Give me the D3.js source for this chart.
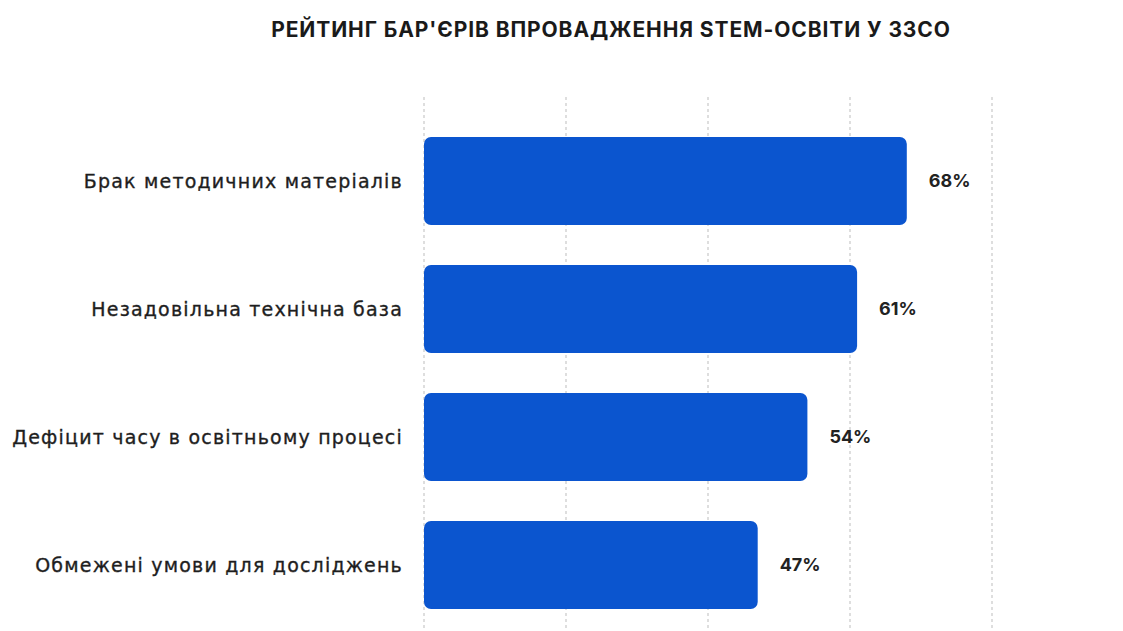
<!DOCTYPE html>
<html><head><meta charset="utf-8">
<script src="https://cdn.jsdelivr.net/npm/d3@7"></script>
<style>body{margin:0;background:#fff;}svg{display:block;}</style>
</head><body>
<svg id="c" width="1123" height="631"></svg>
<script>
const title = "РЕЙТИНГ БАР'ЄРІВ ВПРОВАДЖЕННЯ STEM-ОСВІТИ У ЗЗСО";
const categories = ["Брак методичних матеріалів","Незадовільна технічна база","Дефіцит часу в освітньому процесі","Обмежені умови для досліджень"];
const values = [68, 61, 54, 47];
const gridTicks = [0, 20, 40, 60, 80];

const svg = d3.select("#c");
const x = d3.scaleLinear().domain([0, 100]).range([424, 1134]);
const y = d3.scaleBand().domain(categories).range([117, 629]).paddingInner(0.3125).paddingOuter(0.15625);

svg.append("text").attr("x", 611).attr("y", 37).attr("text-anchor", "middle")
  .attr("font-family", "Inter, 'Open Sans', sans-serif").attr("font-weight", 700)
  .attr("font-size", 21).attr("letter-spacing", 0.9).attr("fill", "#1a1a1a").text(title);

svg.append("g").selectAll("line").data(gridTicks).join("line")
  .attr("x1", d => x(d)).attr("x2", d => x(d)).attr("y1", 97).attr("y2", 631)
  .attr("stroke", "#c8c8c8").attr("stroke-width", 1.2).attr("stroke-dasharray", "3,3");

svg.append("g").selectAll("rect").data(values).join("rect")
  .attr("x", x(0)).attr("y", (d, i) => y(categories[i]))
  .attr("width", d => x(d) - x(0)).attr("height", y.bandwidth())
  .attr("rx", 7).attr("fill", "#0b55cf");

svg.append("g").selectAll("text").data(values).join("text")
  .attr("x", d => x(d) + 22).attr("y", (d, i) => y(categories[i]) + y.bandwidth() / 2)
  .attr("dy", "0.35em").attr("font-family", "Inter, 'Open Sans', sans-serif")
  .attr("font-weight", 700).attr("font-size", 18).attr("fill", "#222").text(d => d + "%");

svg.append("g").selectAll("text").data(categories).join("text")
  .attr("x", 403).attr("y", d => y(d) + y.bandwidth() / 2)
  .attr("dy", "0.35em").attr("text-anchor", "end")
  .attr("font-family", "'DejaVu Sans', sans-serif")
  .attr("font-size", 19).attr("letter-spacing", 1.2)
  .attr("fill", "#1e1e1e").attr("stroke", "#1e1e1e").attr("stroke-width", 0.35)
  .text(d => d);
</script>
</body></html>
